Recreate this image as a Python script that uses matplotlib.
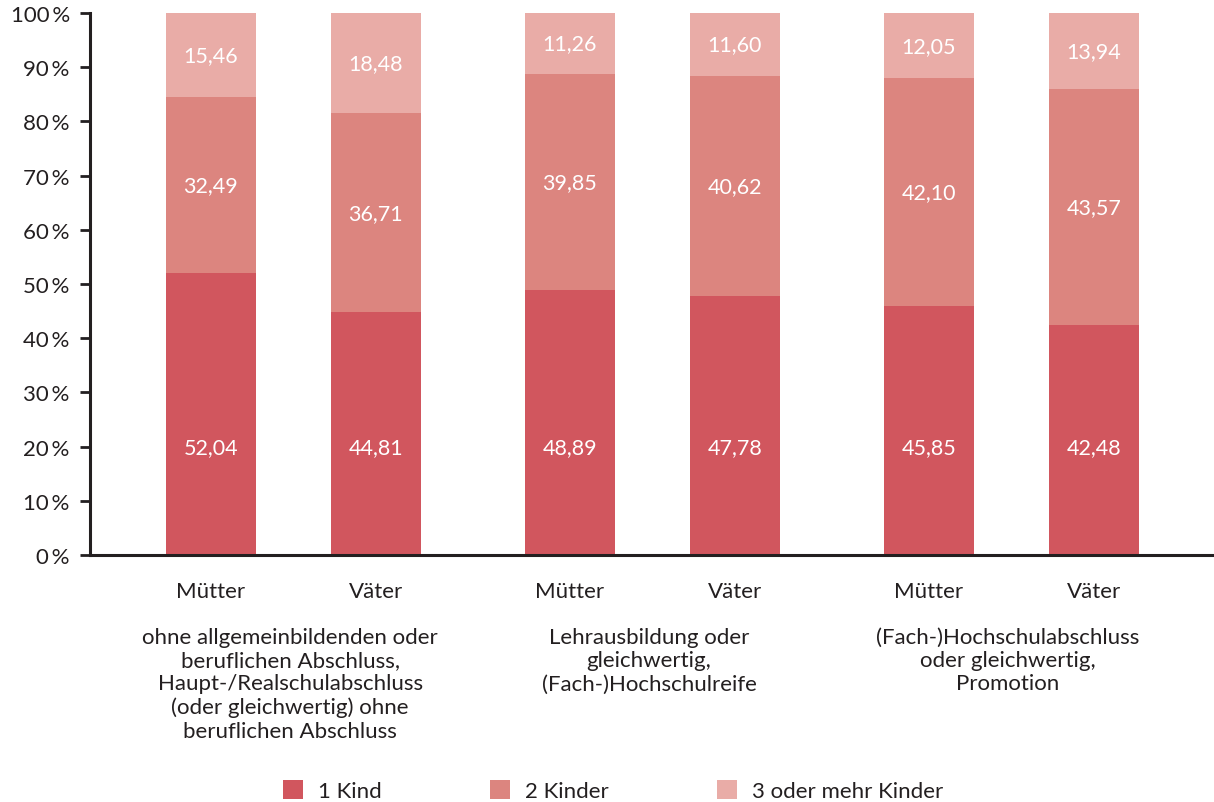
import matplotlib
matplotlib.use("Agg")
import matplotlib.pyplot as plt
from matplotlib.patches import Patch
from matplotlib.transforms import blended_transform_factory
import numpy as np

plt.rcParams['font.family'] = ['Lato', 'DejaVu Sans']

groups = ["ohne allgemeinbildenden oder\nberuflichen Abschluss,\nHaupt-/Realschulabschluss\n(oder gleichwertig) ohne\nberuflichen Abschluss",
          "Lehrausbildung oder\ngleichwertig,\n(Fach-)Hochschulreife",
          "(Fach-)Hochschulabschluss\noder gleichwertig,\nPromotion"]
bar_labels = ["Mütter", "Väter", "Mütter", "Väter", "Mütter", "Väter"]
series_names = ["1 Kind", "2 Kinder", "3 oder mehr Kinder"]
kind1 = [52.04, 44.81, 48.89, 47.78, 45.85, 42.48]
kind2 = [32.49, 36.71, 39.85, 40.62, 42.10, 43.57]
kind3 = [15.46, 18.48, 11.26, 11.60, 12.05, 13.94]
yticks = [0, 10, 20, 30, 40, 50, 60, 70, 80, 90, 100]

colors = ["#d1565e", "#dc857f", "#e9aca7"]
txt = "#231f20"
fs = 16

fig = plt.figure(figsize=(12.14, 8.03), dpi=100)
ax = fig.add_axes([90/1214, 1-556/803, 1-90/1214, (556-14)/803])

gap = 2.176
x = np.array([g*gap + i for g in range(3) for i in range(2)])
w = 0.545
series = [kind1, kind2, kind3]
bottom = np.zeros(6)
for s, vals in enumerate(series):
    vals = np.array(vals)
    ax.bar(x, vals, w, bottom=bottom, color=colors[s], linewidth=0)
    for xi, b, v in zip(x, bottom, vals):
        ypos = 20 if s == 0 else b + v/2
        ax.text(xi, ypos, f"{v:.2f}".replace(".", ","), ha='center', va='center',
                color='white', fontsize=15.5)
    bottom += vals

ax.set_xlim(-0.733, 6.08)
ax.set_ylim(0, 100)
ax.set_yticks(yticks)
ax.set_yticklabels([f"{v}\u2009%" for v in yticks], fontsize=fs, color=txt)
ax.set_xticks(x)
ax.set_xticklabels(bar_labels, fontsize=fs, color=txt)
ax.tick_params(axis='x', length=0, pad=18.5)
ax.tick_params(axis='y', length=7.5, width=2, color=txt, pad=7)
for sp in ['top', 'right']:
    ax.spines[sp].set_visible(False)
for sp in ['left', 'bottom']:
    ax.spines[sp].set_linewidth(2.2)
    ax.spines[sp].set_color(txt)

trans = blended_transform_factory(ax.transData, fig.transFigure)
for g, label in enumerate(groups):
    gx = g*gap + 0.48
    ax.text(gx, 1-628/803, label, transform=trans, ha='center', va='top',
            fontsize=fs, color=txt, linespacing=1.2)

handles = [Patch(facecolor=c, edgecolor='none') for c in colors]
fig.legend(handles, series_names, loc='center', bbox_to_anchor=(0.505, 0.014),
           ncol=3, frameon=False, fontsize=fs, handlelength=0.9, handleheight=0.9,
           handletextpad=0.65, columnspacing=4.9, labelcolor=txt)

fig.savefig("out.png", dpi=100)
